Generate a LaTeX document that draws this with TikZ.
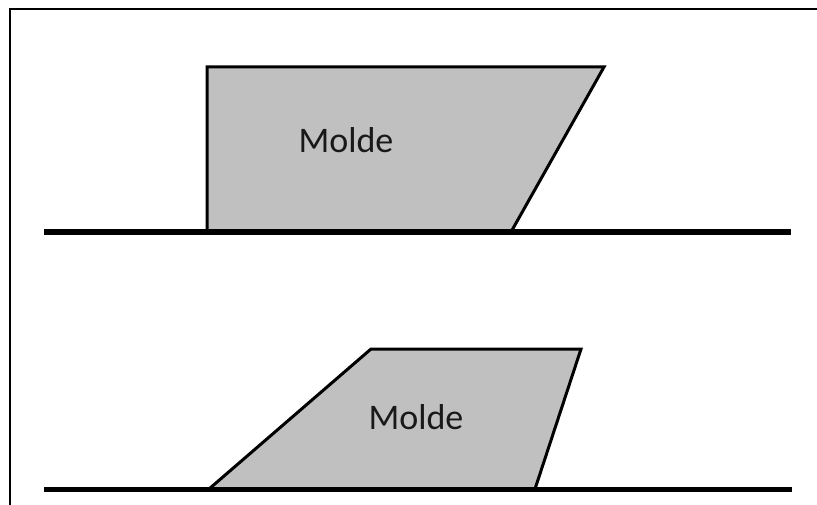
\documentclass[tikz,border=0pt]{standalone}
\usepackage{fontspec}
\setmainfont{Carlito}
\begin{document}
\begin{tikzpicture}[x=1pt,y=-1pt,
  mold/.style={draw=black, line width=3pt, fill={rgb,255:red,192;green,192;blue,192}, line join=miter},
  ground/.style={draw=black, line width=5.5pt},
  frame/.style={draw=black, line width=1.6pt},
  label/.style={font=\fontsize{36}{40}\selectfont, text={rgb,255:red,25;green,25;blue,25}, anchor=base, inner sep=0pt}]
  \useasboundingbox (0,0) rectangle (817,505);
  % outer frame (top and left edges)
  \draw[frame] (10,505) -- (10,9) -- (817,9);
  % upper mold: vertical left side, slanted right side
  \draw[mold] (207,232) -- (207,67) -- (604,67) -- (511,232) -- cycle;
  \draw[ground] (44,232) -- (791,232);
  \node[label] (upper) at (346,153) {Molde};
  % lower mold: both sides slanted
  \draw[mold] (209,489) -- (371,349) -- (581,349) -- (535,489) -- cycle;
  \draw[ground] (44,489.5) -- (792,489.5);
  \node[label] (lower) at (416,429) {Molde};
\end{tikzpicture}
\end{document}
